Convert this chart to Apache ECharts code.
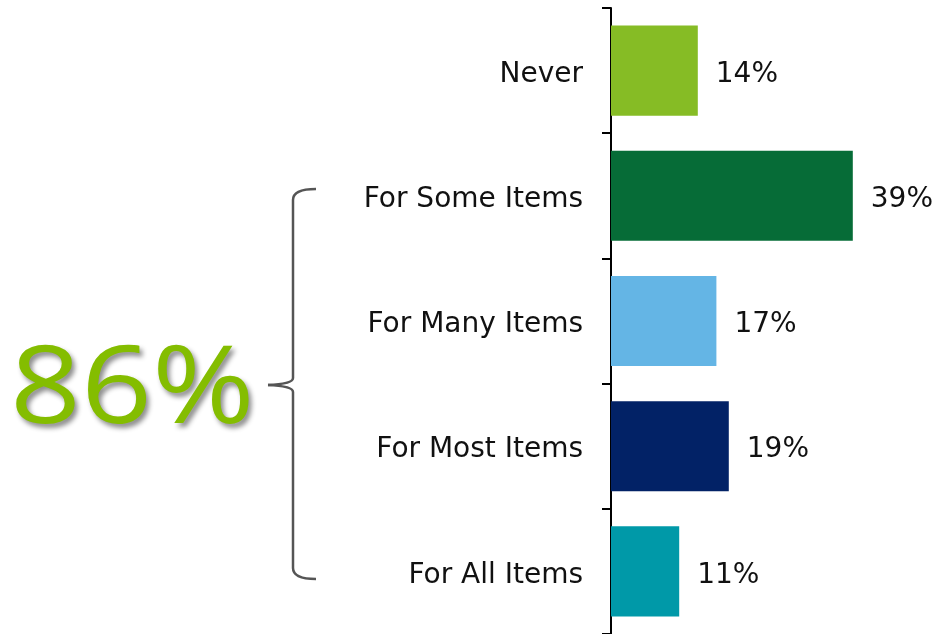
<!DOCTYPE html>
<html>
<head>
<meta charset="utf-8">
<script src="https://cdn.jsdelivr.net/npm/echarts@6/dist/echarts.min.js"></script>
<style>
  html, body { margin: 0; padding: 0; background: #fff; }
  #chart { width: 936px; height: 634px; }
</style>
</head>
<body>
<div id="chart"></div>
<script>
const categories = ['Never', 'For Some Items', 'For Many Items', 'For Most Items', 'For All Items']
const values = [14, 39, 17, 19, 11]
const barColors = ['#86bc25', '#066c37', '#64b5e5', '#022266', '#0099a8']
const totalLabel = '86%'

const chart = echarts.init(document.getElementById('chart'))

// bracket pieces, grey stroke
const bracketStyle = { fill: null, stroke: '#555', lineWidth: 2.5 }
const curve = (x1, y1, cx, cy, x2, y2) => ({
  type: 'bezierCurve',
  shape: { x1, y1, cpx1: cx, cpy1: cy, x2, y2 },
  style: bracketStyle
})
const segment = (x1, y1, x2, y2) => ({
  type: 'line',
  shape: { x1, y1, x2, y2 },
  style: bracketStyle
})

const option = {
  animation: false,
  grid: {
    left: 611,
    right: 15,
    top: 8,
    bottom: 0,
    containLabel: false
  },
  xAxis: {
    type: 'value',
    min: 0,
    max: 50,
    show: false
  },
  yAxis: {
    type: 'category',
    inverse: true,
    data: categories,
    axisLine: { lineStyle: { color: '#000', width: 2 } },
    axisTick: { show: true, length: 9, lineStyle: { color: '#000', width: 2 } },
    axisLabel: {
      margin: 28,
      formatter: '{t|{value}}',
      rich: {
        t: {
          padding: [8, 0, 0, 0],
          fontFamily: 'DejaVu Sans',
          fontSize: 28,
          color: '#111'
        }
      }
    }
  },
  series: [{
    type: 'bar',
    barCategoryGap: '28%',
    data: values.map((v, i) => ({ value: v, itemStyle: { color: barColors[i] } })),
    label: {
      show: true,
      position: 'right',
      distance: 18,
      offset: [0, 4],
      formatter: '{c}%',
      fontFamily: 'DejaVu Sans',
      fontSize: 28,
      color: '#111'
    }
  }],
  graphic: [
    curve(316, 189, 293, 189, 293, 200),
    segment(293, 200, 293, 378),
    curve(293, 378, 293, 384, 268, 385),
    curve(268, 385, 293, 386, 293, 392),
    segment(293, 392, 293, 568),
    curve(293, 568, 293, 579, 316, 579),
    {
      type: 'text',
      x: 10,
      y: 338,
      scaleX: 1.15,
      style: {
        text: totalLabel,
        fontFamily: 'Open Sans',
        fontSize: 108,
        fill: '#84bd00',
        textShadowColor: 'rgba(0,0,0,0.45)',
        textShadowBlur: 5,
        textShadowOffsetX: 3,
        textShadowOffsetY: 4
      }
    }
  ]
}

chart.setOption(option)
</script>
</body>
</html>
